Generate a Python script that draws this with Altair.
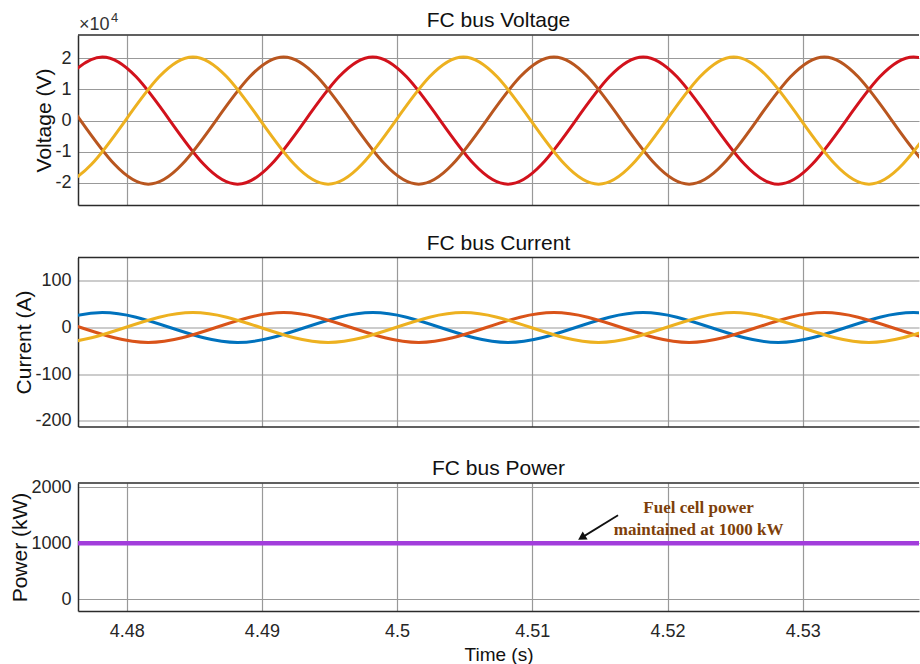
import altair as alt
import pandas as pd

# ---------------- data ----------------
# key instants (s) of each phase: zero crossings and peaks, every quarter period
t_phase_a = [4.4732, 4.4782, 4.4832, 4.4882, 4.4932, 4.4982, 4.5032, 4.5082,
             4.5132, 4.5182, 4.5232, 4.5282, 4.5332, 4.5382, 4.5432]
t_phase_b = [4.4666, 4.4716, 4.4766, 4.4816, 4.4866, 4.4916, 4.4966, 4.5016,
             4.5066, 4.5116, 4.5166, 4.5216, 4.5266, 4.5316, 4.5366, 4.5416, 4.5466]
t_phase_c = [4.4699, 4.4749, 4.4799, 4.4849, 4.4899, 4.4949, 4.4999, 4.5049,
             4.5099, 4.5149, 4.5199, 4.5249, 4.5299, 4.5349, 4.5399]

# FC bus voltage (V) at those instants
v_phase_a = [0, 20500, 0, -20500, 0, 20500, 0, -20500, 0, 20500, 0, -20500, 0, 20500, 0]
v_phase_b = [0, 20500, 0, -20500, 0, 20500, 0, -20500, 0, 20500, 0, -20500, 0, 20500, 0, -20500, 0]
v_phase_c = [0, -20500, 0, 20500, 0, -20500, 0, 20500, 0, -20500, 0, 20500, 0, -20500, 0]

# FC bus current (A) at those instants
i_phase_a = [0, 32, 0, -32, 0, 32, 0, -32, 0, 32, 0, -32, 0, 32, 0]
i_phase_b = [0, 32, 0, -32, 0, 32, 0, -32, 0, 32, 0, -32, 0, 32, 0, -32, 0]
i_phase_c = [0, -32, 0, 32, 0, -32, 0, 32, 0, -32, 0, 32, 0, -32, 0]

# FC bus power (kW)
p_time = [4.47, 4.545]
p_value = [1000, 1000]

# axes
x_domain = [4.4764, 4.5386]
x_ticks = [4.48, 4.49, 4.5, 4.51, 4.52, 4.53]
v_domain = [-27200, 27550]
v_ticks = [-20000, -10000, 0, 10000, 20000]
i_domain = [-212, 150]
i_ticks = [-200, -100, 0, 100]
p_domain = [-210, 2075]
p_ticks = [0, 1000, 2000]

# titles and annotation
panel_titles = ["FC bus Voltage", "FC bus Current", "FC bus Power"]
note_lines = ["Fuel cell power", "maintained at 1000 kW"]
note_t = [4.5223, 4.5223]
note_p = [1546, 1148]
arrow_t = [4.51634, 4.51365]
arrow_p = [1500, 1100]

phase_names = ["a", "b", "c"]
v_colors = ["#D2121C", "#B9561F", "#EDB120"]
i_colors = ["#0072BD", "#D95319", "#EDB120"]

# ---------------- styling ----------------
FONT = "Liberation Sans"
W = 841
FRAME = "#2b2b2b"
GRID = "#999999"
ONE = pd.DataFrame({"k": [0]})


def frame_df(times, vals, name):
    return pd.DataFrame({"t": times, "y": vals, "phase": name})


v_df = pd.concat([frame_df(t_phase_a, v_phase_a, "a"),
                  frame_df(t_phase_b, v_phase_b, "b"),
                  frame_df(t_phase_c, v_phase_c, "c")])
i_df = pd.concat([frame_df(t_phase_a, i_phase_a, "a"),
                  frame_df(t_phase_b, i_phase_b, "b"),
                  frame_df(t_phase_c, i_phase_c, "c")])
p_df = pd.DataFrame({"t": p_time, "y": p_value})
note_df = pd.DataFrame({"t": note_t, "y": note_p, "txt": note_lines})
arrow_df = pd.DataFrame({"t": [arrow_t[0]], "y": [arrow_p[0]],
                         "t2": [arrow_t[1]], "y2": [arrow_p[1]]})
head_df = pd.DataFrame({"t": [arrow_t[1]], "y": [arrow_p[1]]})


def x_enc(labels):
    if labels:
        ax = alt.Axis(values=x_ticks, format=".3~g", grid=True, ticks=False,
                      labelPadding=11, title="Time (s)", titlePadding=5,
                      titleFontSize=19, labelFontSize=18)
    else:
        ax = alt.Axis(values=x_ticks, grid=True, ticks=False, labels=False,
                      title=None)
    return alt.X("t:Q", scale=alt.Scale(domain=x_domain, nice=False, zero=False),
                 axis=ax)


def y_enc(domain, ticks, title, label_expr):
    return alt.Y("y:Q", scale=alt.Scale(domain=domain, nice=False, zero=False),
                 axis=alt.Axis(values=ticks, grid=True, ticks=False, title=title,
                               labelExpr=label_expr, labelPadding=7,
                               titlePadding=0, titleFontSize=21,
                               labelFontSize=18))


def top_border():
    return alt.Chart(ONE).mark_rule(color=FRAME, strokeWidth=1.5).encode(
        x=alt.value(0), x2=alt.value(W), y=alt.value(0))


def title_mark(text):
    return alt.Chart(ONE).mark_text(text=text, font=FONT, fontSize=21,
                                    color="#111111", align="center",
                                    baseline="alphabetic").encode(
        x=alt.value(W / 2), y=alt.value(-8))


# ---------------- voltage panel ----------------
v_lines = alt.Chart(v_df).mark_line(interpolate="natural", strokeWidth=3,
                                    clip=True).encode(
    x=x_enc(False),
    y=y_enc(v_domain, v_ticks, "Voltage (V)", "'' + datum.value / 10000"),
    color=alt.Color("phase:N", scale=alt.Scale(domain=phase_names, range=v_colors),
                    legend=None),
    detail="phase:N",
)
exp_base = alt.Chart(ONE).mark_text(
    text="×10", font=FONT, fontSize=18, color="#333333", align="left",
    baseline="alphabetic").encode(x=alt.value(1), y=alt.value(-5))
exp_sup = alt.Chart(ONE).mark_text(
    text="4", font=FONT, fontSize=13, color="#333333", align="left",
    baseline="alphabetic").encode(x=alt.value(33), y=alt.value(-13))
v_panel = alt.layer(v_lines, top_border(), exp_base, exp_sup,
                    title_mark(panel_titles[0])).properties(width=W, height=170)

# ---------------- current panel ----------------
i_lines = alt.Chart(i_df).mark_line(interpolate="natural", strokeWidth=3,
                                    clip=True).encode(
    x=x_enc(False),
    y=y_enc(i_domain, i_ticks, "Current (A)", "'' + datum.value"),
    color=alt.Color("phase:N", scale=alt.Scale(domain=phase_names, range=i_colors),
                    legend=None),
    detail="phase:N",
)
i_panel = alt.layer(i_lines, top_border(),
                    title_mark(panel_titles[1])).properties(width=W, height=169)

# ---------------- power panel ----------------
p_line = alt.Chart(p_df).mark_line(strokeWidth=4.5, color="#A23DDB",
                                   clip=True).encode(
    x=x_enc(True),
    y=y_enc(p_domain, p_ticks, "Power (kW)", "'' + datum.value"),
)
note = alt.Chart(note_df).mark_text(font="Liberation Serif", fontWeight="bold",
                                    fontSize=17, color="#7E3F0A",
                                    baseline="alphabetic").encode(
    x="t:Q", y="y:Q", text="txt:N")
arrow = alt.Chart(arrow_df).mark_rule(color="#111111", strokeWidth=1.8).encode(
    x="t:Q", y="y:Q", x2="t2:Q", y2="y2:Q")
head = alt.Chart(head_df).mark_point(shape="triangle-up", filled=True,
                                     color="#111111", size=90, angle=238.7,
                                     opacity=1).encode(x="t:Q", y="y:Q")
p_panel = alt.layer(p_line, note, arrow, head, top_border(),
                    title_mark(panel_titles[2])).properties(width=W, height=128)

chart = alt.vconcat(v_panel, i_panel, p_panel, spacing=27.5).resolve_scale(
    color="independent", y="independent"
).properties(
    padding={"left": 9, "top": 10, "right": 0, "bottom": 0},
    background="white",
).configure_view(stroke=None).configure_axis(
    labelFont=FONT, titleFont=FONT, labelColor="#262626", titleColor="#111111",
    titleFontWeight="normal", domainColor=FRAME, domainWidth=1.5,
    gridColor=GRID, gridWidth=1.2, gridOpacity=1,
)

chart.save("out.html", embed_options={"renderer": "svg", "actions": False})
